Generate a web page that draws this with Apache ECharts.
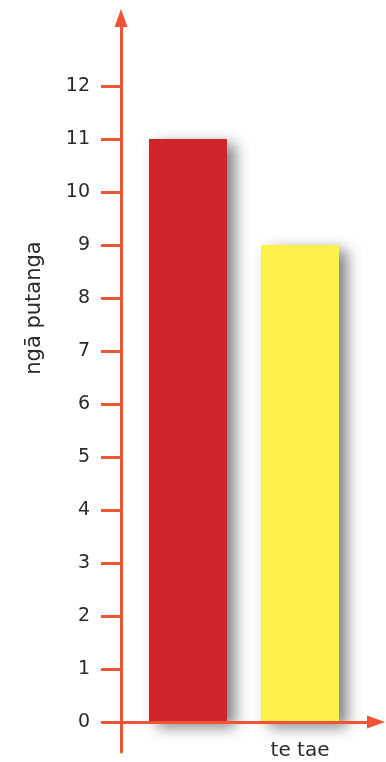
<!DOCTYPE html>
<html>
<head>
<meta charset="utf-8">
<script src="https://cdn.jsdelivr.net/npm/echarts@6/dist/echarts.min.js"></script>
<style>
  html, body { margin: 0; padding: 0; background: #ffffff; }
  #chart { width: 386px; height: 762px; }
</style>
</head>
<body>
<div id="chart"></div>
<script>
// Chart data
const categories = ['whero', 'kōwhai'];
const values = [11, 9];
const barColors = ['#D0232A', '#FFF04A'];
const yTicks = [0, 1, 2, 3, 4, 5, 6, 7, 8, 9, 10, 11, 12];
const yName = 'ngā putanga';
const xName = 'te tae';

const axisColor = '#EF5535';
const textColor = '#2a2a2a';
const font = 'DejaVu Sans';

// Value range: the y axis runs a little below zero and past 12 up to its arrow
const yMin = -0.566;
const yMax = 13.283;

const chart = echarts.init(document.getElementById('chart'), null, { renderer: 'canvas' });

chart.setOption({
  animation: false,
  grid: [
    // bar area
    { left: 132, right: 30, top: 18, bottom: 10, outerBoundsMode: 'none', containLabel: false },
    // horizontal axis with its arrow, starting at the vertical axis
    { left: 121, right: 10, top: 18, bottom: 40, outerBoundsMode: 'none', containLabel: false }
  ],
  xAxis: [
    {
      type: 'category',
      gridIndex: 0,
      data: categories,
      axisLine: { show: false },
      axisTick: { show: false },
      axisLabel: { show: false }
    },
    {
      type: 'value',
      gridIndex: 1,
      z: 10,
      position: 'bottom',
      axisLine: {
        onZero: false,
        lineStyle: { color: axisColor, width: 3 },
        symbol: ['none', 'triangle'],
        symbolSize: [13, 18]
      },
      axisTick: { show: false },
      axisLabel: { show: false },
      splitLine: { show: false },
      name: xName,
      nameLocation: 'middle',
      nameGap: 19,
      nameTextStyle: {
        fontFamily: font, fontSize: 20, color: textColor,
        padding: [0, 0, 0, 103]
      }
    }
  ],
  yAxis: [
    {
      type: 'value',
      gridIndex: 0,
      min: yMin,
      max: yMax,
      offset: 11,
      z: 10,
      axisLine: {
        show: true,
        onZero: false,
        lineStyle: { color: axisColor, width: 3 },
        symbol: ['none', 'triangle'],
        symbolSize: [13, 18]
      },
      axisTick: {
        show: true,
        inside: false,
        length: 20,
        customValues: yTicks,
        lineStyle: { color: axisColor, width: 3 }
      },
      axisLabel: {
        customValues: yTicks,
        margin: 31,
        fontFamily: font,
        fontSize: 19,
        color: textColor
      },
      splitLine: { show: false },
      name: yName,
      nameLocation: 'middle',
      nameGap: 76,
      nameTextStyle: {
        fontFamily: font, fontSize: 21, color: textColor,
        padding: [0, 0, 0, 154]
      }
    },
    {
      type: 'value',
      gridIndex: 1,
      show: false
    }
  ],
  series: [
    {
      type: 'bar',
      xAxisIndex: 0,
      yAxisIndex: 0,
      barWidth: 78,
      data: values.map((v, i) => ({
        value: v,
        itemStyle: {
          color: barColors[i],
          shadowColor: 'rgba(0,0,0,0.5)',
          shadowBlur: 14,
          shadowOffsetX: 8,
          shadowOffsetY: 5
        }
      }))
    }
  ]
});
</script>
</body>
</html>
